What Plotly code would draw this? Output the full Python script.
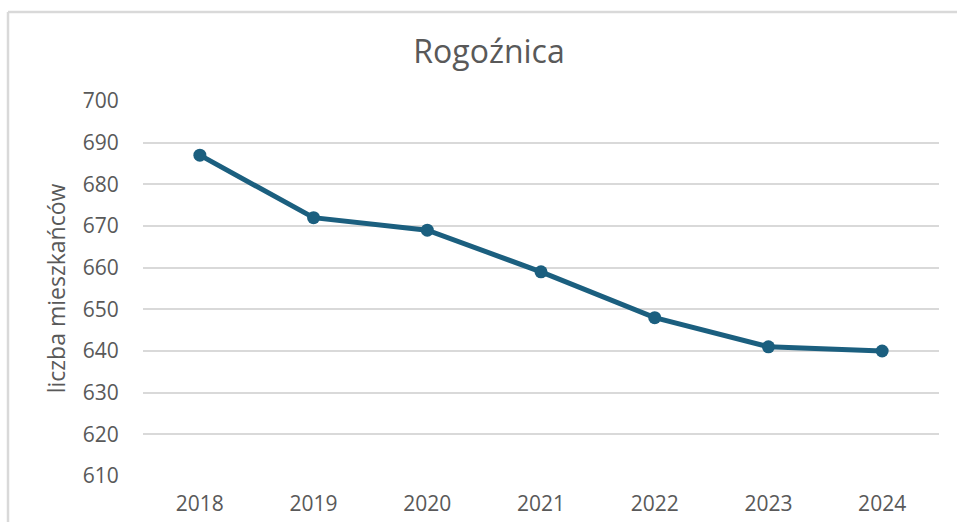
import plotly.graph_objects as go

years = ["2018", "2019", "2020", "2021", "2022", "2023", "2024"]
residents = [687, 672, 669, 659, 648, 641, 640]
title_text = "Rogoźnica"
y_title = "liczba mieszkańców"
y_ticks = [610, 620, 630, 640, 650, 660, 670, 680, 690, 700]

W, H = 957, 522
L, R, T, B = 143, 18, 101, 46
pw, ph = W - L - R, H - T - B

def px(x):
    return (x - L) / pw

def py(y):
    return (H - B - y) / ph

line_color = "#1b5f7f"
text_color = "#595959"
grid_color = "#d9d9d9"
font_family = "Open Sans, Liberation Sans, sans-serif"

fig = go.Figure()
fig.add_trace(go.Scatter(
    x=list(range(len(years))), y=residents, mode="lines+markers",
    line=dict(color=line_color, width=5),
    marker=dict(color=line_color, size=13),
    showlegend=False, hoverinfo="x+y",
))

fig.update_layout(
    width=W, height=H,
    margin=dict(l=L, r=R, t=T, b=B, autoexpand=False),
    paper_bgcolor="white", plot_bgcolor="white",
    font=dict(family=font_family, color=text_color, size=21),
    title=dict(text=title_text, x=px(489), xref="paper", xanchor="center",
               y=(H - 52) / H, yref="container", yanchor="middle",
               font=dict(size=32, color=text_color, family=font_family)),
    xaxis=dict(
        range=[-0.5, len(years) - 0.5], automargin=False,
        tickmode="array", tickvals=list(range(len(years))), ticktext=years,
        showgrid=False, zeroline=False, showline=False,
        ticks="outside", ticklen=9, tickcolor="rgba(0,0,0,0)",
        tickfont=dict(size=21, color=text_color),
    ),
    yaxis=dict(
        range=[610, 700], automargin=False,
        tickmode="array", tickvals=y_ticks,
        showgrid=True, gridcolor=grid_color, gridwidth=1.8,
        zeroline=False, showline=False,
        ticks="outside", ticklen=19, tickcolor="rgba(0,0,0,0)",
        tickfont=dict(size=21, color=text_color),
        title=dict(text=y_title, font=dict(size=23, color=text_color), standoff=10),
    ),
    shapes=[
        dict(type="line", xref="paper", yref="paper",
             x0=px(8), x1=px(8), y0=py(530), y1=py(12),
             line=dict(color=grid_color, width=2.5)),
        dict(type="line", xref="paper", yref="paper",
             x0=px(8), x1=px(970), y0=py(12), y1=py(12),
             line=dict(color=grid_color, width=2.5)),
    ],
)

fig.write_html("out.html", config={"displayModeBar": False},
               post_script="document.body.style.margin='0';")
